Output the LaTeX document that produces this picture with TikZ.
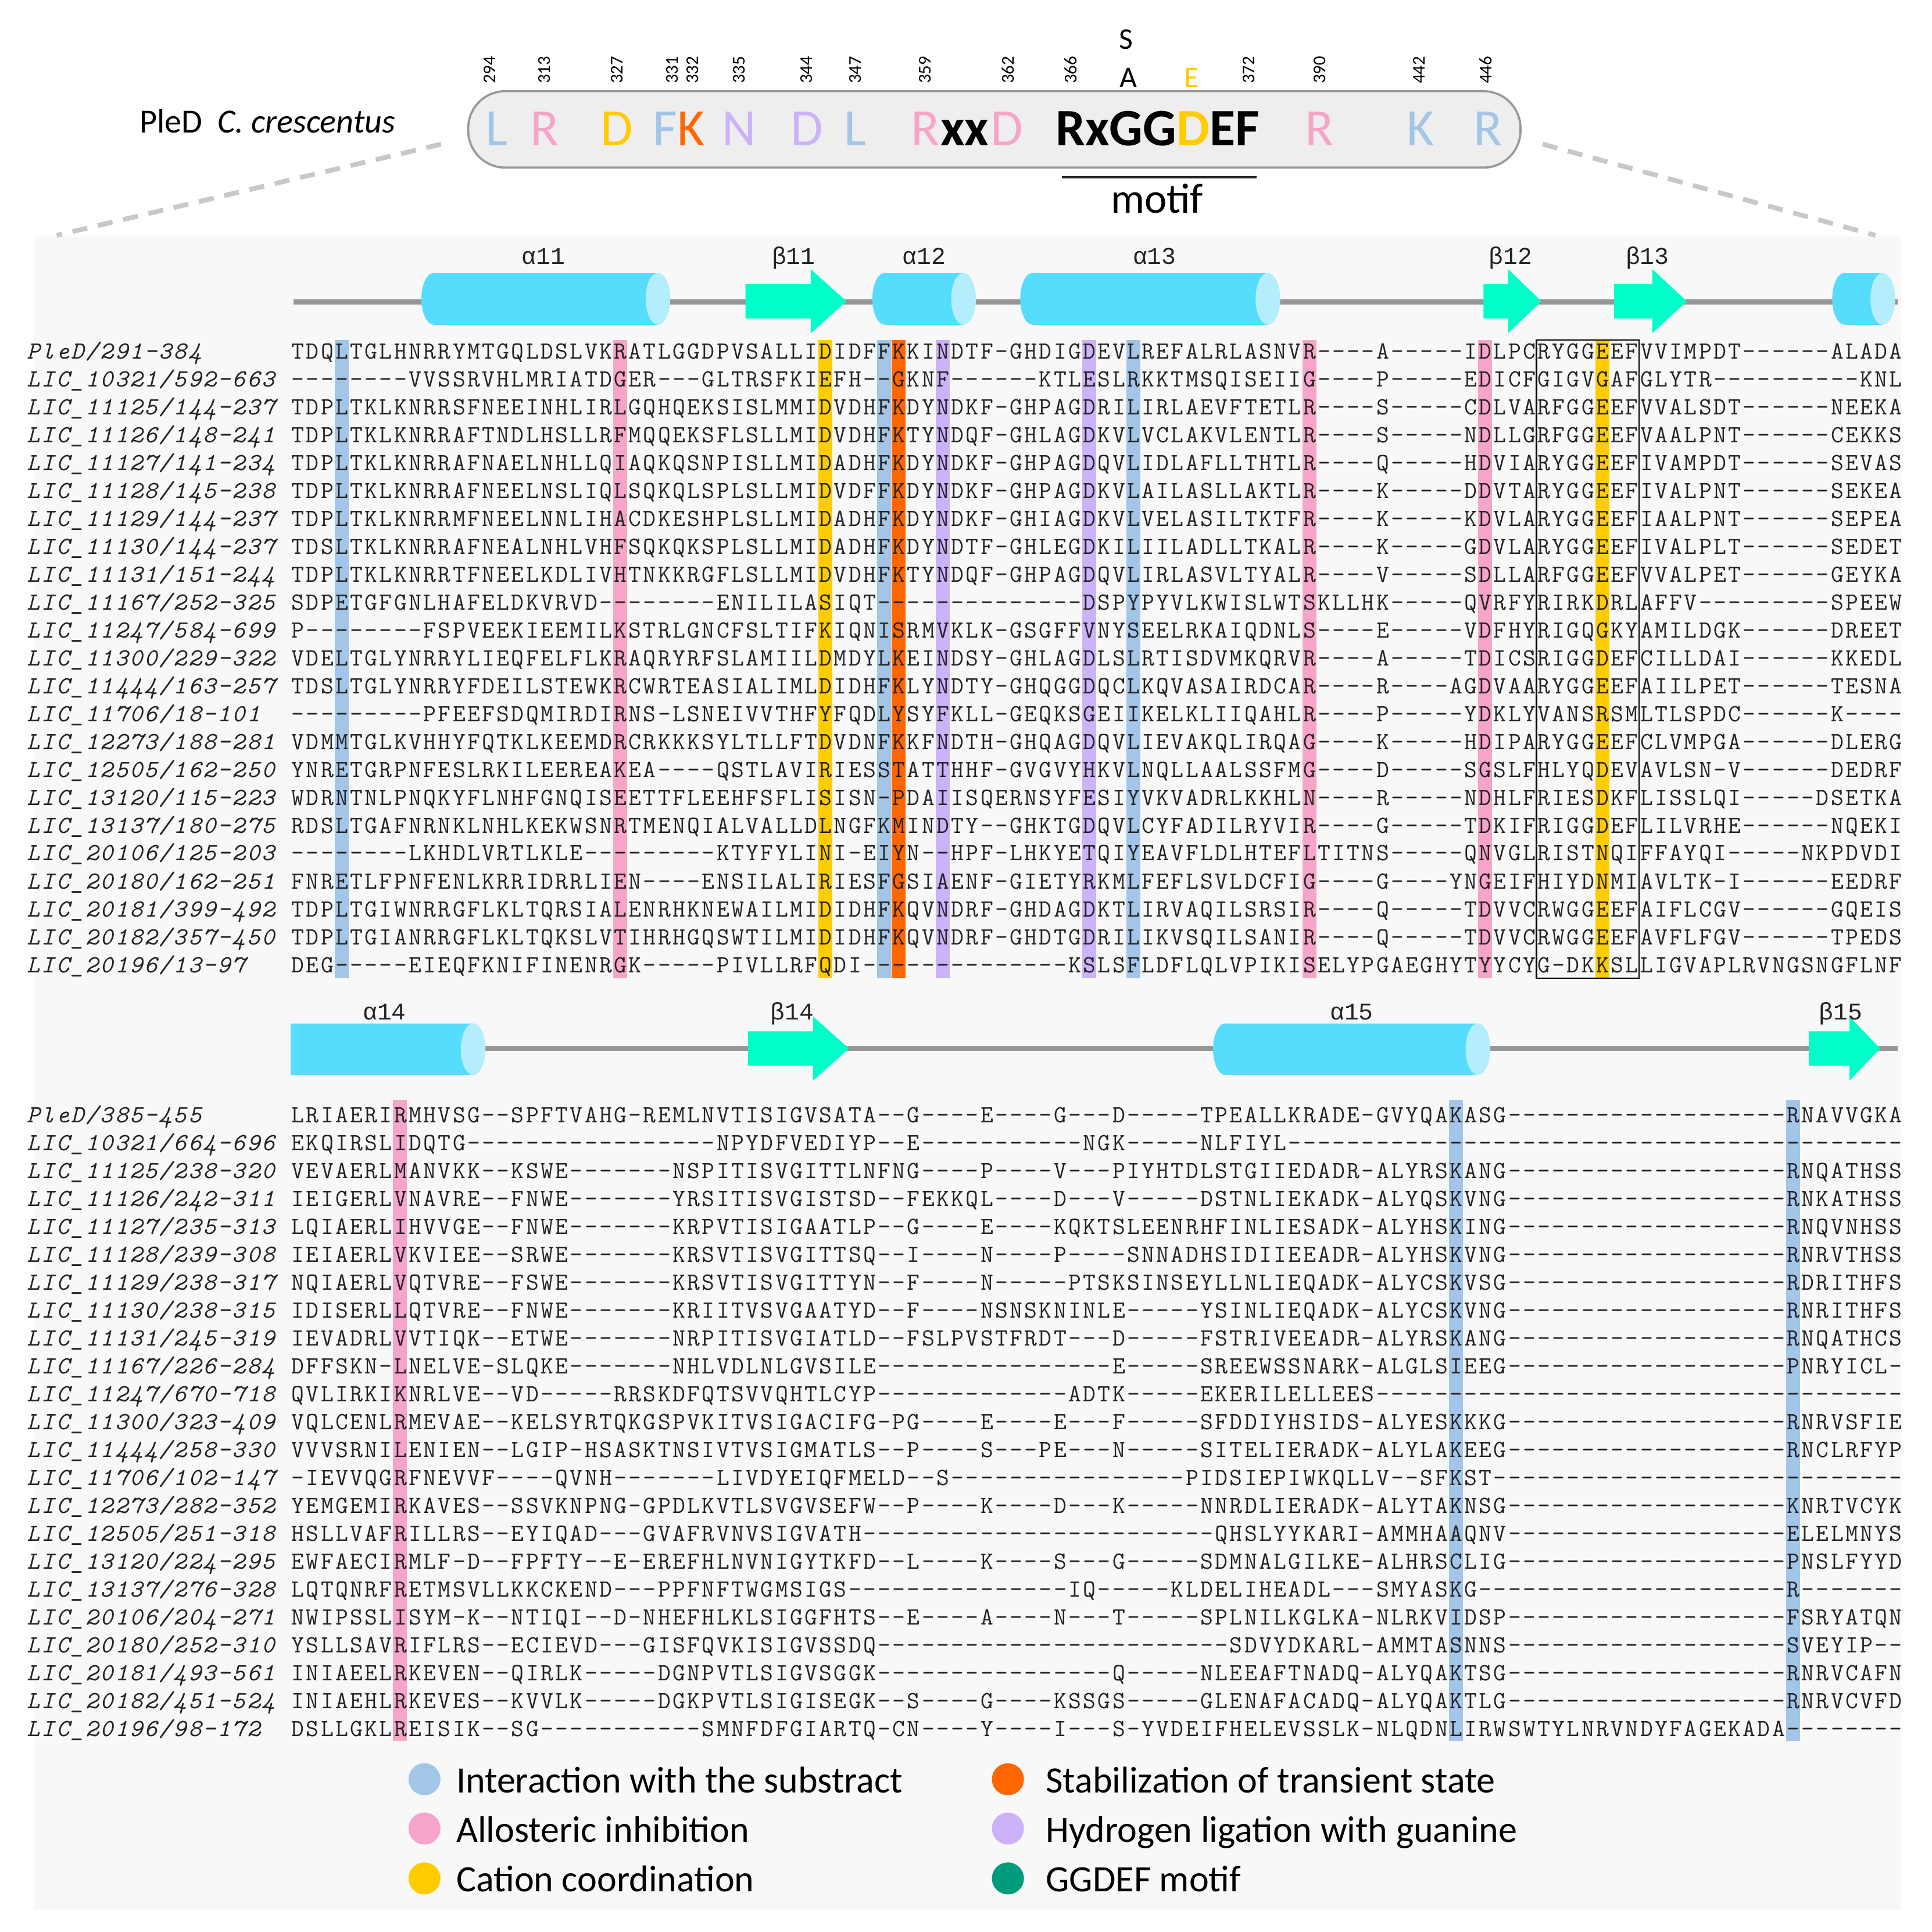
\documentclass[tikz,border=0pt]{standalone}
\usepackage{fontspec}
\newfontfamily\calfont{Carlito}
\newfontfamily\ssefont{Liberation Mono}

\definecolor{subblue}{RGB}{162,197,232}
\definecolor{alopink}{RGB}{246,165,200}
\definecolor{catyel}{RGB}{255,204,0}
\definecolor{staborg}{RGB}{255,102,0}
\definecolor{hydpur}{RGB}{204,178,248}
\definecolor{motgrn}{RGB}{0,155,124}
\definecolor{helixc}{RGB}{86,221,253}
\definecolor{helixcap}{RGB}{180,238,252}
\definecolor{strandc}{RGB}{0,255,200}
\definecolor{panelc}{RGB}{248,248,248}
\definecolor{seqgray}{RGB}{35,35,35}
\definecolor{pillc}{RGB}{238,238,238}
\definecolor{sscol}{RGB}{150,150,150}
\definecolor{dashc}{RGB}{200,200,200}

% one residue per fixed cell
\newlength\cw
\setlength\cw{0.238cm}
\newcommand\seqstr[1]{\ifx#1\relax\else\hbox to\cw{\hss#1\hss}\expandafter\seqstr\fi}

\tikzset{
  seq/.style={anchor=base west, inner sep=0pt, text=seqgray, font=\fontsize{11.4}{13}\selectfont\ttfamily},
  lab/.style={seq, font=\fontsize{11.4}{13}\selectfont\ttfamily\itshape},
  sselab/.style={anchor=base, inner sep=0pt, text=seqgray, font=\ssefont\fontsize{11.1}{13}\selectfont},
  hd/.style={anchor=base, inner sep=0pt, font=\calfont\fontsize{24.3}{28}\selectfont},
  hdb/.style={hd, font=\calfont\fontsize{24.3}{28}\selectfont\bfseries},
  posnum/.style={rotate=90, inner sep=0pt, font=\calfont\fontsize{8.3}{10}\selectfont},
  legtxt/.style={anchor=base west, inner sep=0pt, font=\calfont\fontsize{17.2}{20}\selectfont},
  ssline/.style={draw=sscol, line width=2.3pt},
  zoomline/.style={draw=dashc, line width=2.2pt, dash pattern=on 7pt off 5pt}
}

\begin{document}
\begin{tikzpicture}[x=0.02cm, y=-0.02cm]
\useasboundingbox (0,0) rectangle (1568,1568);
\fill[white] (0,0) rectangle (1568,1568);
\fill[panelc] (28,192) rectangle (1543,1550);

% zoom lines and PleD consensus
\draw[zoomline] (358,117) -- (46,191);
\draw[zoomline] (1252,117) -- (1522,191);
\filldraw[fill=pillc, draw=gray!80, line width=1pt, rounded corners=0.6cm] (380,74) rectangle (1234,136);
\node[anchor=base west, inner sep=0pt, font=\calfont\fontsize{15.6}{18}\selectfont] (org) at (113,108) {PleD\ \ \textit{C. crescentus}};

\node[hd, text=subblue] (h294) at (403,118) {L};
\node[hd, text=alopink] (h313) at (442,118) {R};
\node[hd, text=catyel] (h327) at (500.6,118) {D};
\node[hd, text=subblue] (h331) at (540,118) {F};
\node[hd, text=staborg] (h332) at (561,118) {K};
\node[hd, text=hydpur] (h335) at (600,118) {N};
\node[hd, text=hydpur] (h344) at (655,118) {D};
\node[hd, text=subblue] (h347) at (694,118) {L};
\node[hd, text=alopink] (h359) at (751,118) {R};
\node[hdb] (hxx) at (783,118) {xx};
\node[hd, text=alopink] (h362) at (817,118) {D};
\node[hdb] (hmot) at (939.5,118) {RxGG\textcolor{catyel}{D}EF};
\node[hd, text=alopink] (h390) at (1071,118) {R};
\node[hd, text=subblue] (h442) at (1153,118) {K};
\node[hd, text=subblue] (h446) at (1207.5,118) {R};

\foreach \x/\n in {397.6/294, 442/313, 500.6/327, 545.8/331, 562.3/332, 600/335, 654.7/344, 694/347, 751/359, 818/362, 869/366, 1013.7/372, 1071/390, 1151.5/442, 1205.6/446}
  \node[posnum] (p\n) at (\x,56.7) {\n};

\node[inner sep=0pt, font=\calfont\fontsize{13.9}{16}\selectfont] (subS) at (914,32) {S};
\node[inner sep=0pt, font=\calfont\fontsize{13.9}{16}\selectfont] (subA) at (916,63) {A};
\node[inner sep=0pt, text=catyel, font=\calfont\fontsize{13.9}{16}\selectfont] (subE) at (967,63) {E};

\draw[gray!30!black, line width=1pt] (862,144) -- (1020,144);
\node[anchor=base, inner sep=0pt, font=\calfont\fontsize{19.5}{22}\selectfont] (motif) at (939,173) {motif};

% secondary structure, block 1
\draw[ssline] (238,245) -- (1540,245);
\foreach \xa/\xb in {342/544, 708/792, 828/1039, 1487/1538} {
  \fill[helixc] (\xa+10,221.5) rectangle (\xb-10,263.5);
  \fill[helixc] (\xa+10,242.5) ellipse [x radius=10, y radius=21];
  \fill[helixcap] (\xb-10,242.5) ellipse [x radius=10, y radius=21];
}
\foreach \xa/\xh/\xt in {605/658/687, 1204/1224/1251, 1310/1341/1369}
  \fill[strandc] (\xa,230.5) -- (\xh,230.5) -- (\xh,218.5) -- (\xt,244.5) -- (\xh,270.5) -- (\xh,258.5) -- (\xa,258.5) -- cycle;
\node[sselab] (a11) at (441,214.5) {α11};
\node[sselab] (b11) at (644,214.5) {β11};
\node[sselab] (a12) at (750,214.5) {α12};
\node[sselab] (a13) at (937,214.5) {α13};
\node[sselab] (b12) at (1226,214.5) {β12};
\node[sselab] (b13) at (1337,214.5) {β13};

% secondary structure, block 2
\draw[ssline] (238,851) -- (1540,851);
\fill[helixc] (236,830.5) rectangle (384,872.5);
\fill[helixcap] (384,851.5) ellipse [x radius=10, y radius=21];
\fill[helixc] (994.5,830.5) rectangle (1199.5,872.5);
\fill[helixc] (994.5,851.5) ellipse [x radius=10, y radius=21];
\fill[helixcap] (1199.5,851.5) ellipse [x radius=10, y radius=21];
\foreach \xa/\xh/\xt in {607/660/689, 1468/1501/1526}
  \fill[strandc] (\xa,837) -- (\xh,837) -- (\xh,825) -- (\xt,851) -- (\xh,877) -- (\xh,865) -- (\xa,865) -- cycle;
\node[sselab] (a14) at (312,827.5) {α14};
\node[sselab] (b14) at (643,827.5) {β14};
\node[sselab] (a15) at (1097,827.5) {α15};
\node[sselab] (b15) at (1494,827.5) {β15};

% conserved columns
\foreach \c/\cl in {4/subblue, 23/alopink, 37/catyel, 41/subblue, 42/staborg, 45/hydpur, 55/hydpur, 58/subblue, 70/alopink, 82/alopink, 90/catyel}
  \fill[\cl] ({235.5+(\c-1)*11.9+0.3},276) rectangle ({235.5+\c*11.9-0.3},794);
\draw[black, line width=0.6pt] (1247,276) rectangle (1330.3,794);
\foreach \c/\cl in {8/alopink, 80/subblue, 103/subblue}
  \fill[\cl] ({235.5+(\c-1)*11.9+0.3},893) rectangle ({235.5+\c*11.9-0.3},1413);

% alignment, block 1
\node[lab] (lA1) at (21,291.2) {\seqstr PleD/291-384\relax};
\node[seq] (sA1) at (235.5,291.2) {\seqstr TDQLTGLHNRRYMTGQLDSLVKRATLGGDPVSALLIDIDFFKKINDTF-GHDIGDEVLREFALRLASNVR----A-----IDLPCRYGGEEFVVIMPDT------ALADA\relax};
\node[lab] (lA2) at (21,313.8) {\seqstr LIC\_10321/592-663\relax};
\node[seq] (sA2) at (235.5,313.8) {\seqstr --------VVSSRVHLMRIATDGER---GLTRSFKIEFH--GKNF------KTLESLRKKTMSQISEIIG----P-----EDICFGIGVGAFGLYTR----------KNL\relax};
\node[lab] (lA3) at (21,336.5) {\seqstr LIC\_11125/144-237\relax};
\node[seq] (sA3) at (235.5,336.5) {\seqstr TDPLTKLKNRRSFNEEINHLIRLGQHQEKSISLMMIDVDHFKDYNDKF-GHPAGDRILIRLAEVFTETLR----S-----CDLVARFGGEEFVVALSDT------NEEKA\relax};
\node[lab] (lA4) at (21,359.1) {\seqstr LIC\_11126/148-241\relax};
\node[seq] (sA4) at (235.5,359.1) {\seqstr TDPLTKLKNRRAFTNDLHSLLRFMQQEKSFLSLLMIDVDHFKTYNDQF-GHLAGDKVLVCLAKVLENTLR----S-----NDLLGRFGGEEFVAALPNT------CEKKS\relax};
\node[lab] (lA5) at (21,381.7) {\seqstr LIC\_11127/141-234\relax};
\node[seq] (sA5) at (235.5,381.7) {\seqstr TDPLTKLKNRRAFNAELNHLLQIAQKQSNPISLLMIDADHFKDYNDKF-GHPAGDQVLIDLAFLLTHTLR----Q-----HDVIARYGGEEFIVAMPDT------SEVAS\relax};
\node[lab] (lA6) at (21,404.4) {\seqstr LIC\_11128/145-238\relax};
\node[seq] (sA6) at (235.5,404.4) {\seqstr TDPLTKLKNRRAFNEELNSLIQLSQKQLSPLSLLMIDVDFFKDYNDKF-GHPAGDKVLAILASLLAKTLR----K-----DDVTARYGGEEFIVALPNT------SEKEA\relax};
\node[lab] (lA7) at (21,427.0) {\seqstr LIC\_11129/144-237\relax};
\node[seq] (sA7) at (235.5,427.0) {\seqstr TDPLTKLKNRRMFNEELNNLIHACDKESHPLSLLMIDADHFKDYNDKF-GHIAGDKVLVELASILTKTFR----K-----KDVLARYGGEEFIAALPNT------SEPEA\relax};
\node[lab] (lA8) at (21,449.7) {\seqstr LIC\_11130/144-237\relax};
\node[seq] (sA8) at (235.5,449.7) {\seqstr TDSLTKLKNRRAFNEALNHLVHFSQKQKSPLSLLMIDADHFKDYNDTF-GHLEGDKILIILADLLTKALR----K-----GDVLARYGGEEFIVALPLT------SEDET\relax};
\node[lab] (lA9) at (21,472.3) {\seqstr LIC\_11131/151-244\relax};
\node[seq] (sA9) at (235.5,472.3) {\seqstr TDPLTKLKNRRTFNEELKDLIVHTNKKRGFLSLLMIDVDHFKTYNDQF-GHPAGDQVLIRLASVLTYALR----V-----SDLLARFGGEEFVVALPET------GEYKA\relax};
\node[lab] (lA10) at (21,494.9) {\seqstr LIC\_11167/252-325\relax};
\node[seq] (sA10) at (235.5,494.9) {\seqstr SDPETGFGNLHAFELDKVRVD--------ENILILASIQT--------------DSPYPYVLKWISLWTSKLLHK-----QVRFYRIRKDRLAFFV---------SPEEW\relax};
\node[lab] (lA11) at (21,517.6) {\seqstr LIC\_11247/584-699\relax};
\node[seq] (sA11) at (235.5,517.6) {\seqstr P--------FSPVEEKIEEMILKSTRLGNCFSLTIFKIQNISRMVKLK-GSGFFVNYSEELRKAIQDNLS----E-----VDFHYRIGQGKYAMILDGK------DREET\relax};
\node[lab] (lA12) at (21,540.2) {\seqstr LIC\_11300/229-322\relax};
\node[seq] (sA12) at (235.5,540.2) {\seqstr VDELTGLYNRRYLIEQFELFLKRAQRYRFSLAMIILDMDYLKEINDSY-GHLAGDLSLRTISDVMKQRVR----A-----TDICSRIGGDEFCILLDAI------KKEDL\relax};
\node[lab] (lA13) at (21,562.8) {\seqstr LIC\_11444/163-257\relax};
\node[seq] (sA13) at (235.5,562.8) {\seqstr TDSLTGLYNRRYFDEILSTEWKRCWRTEASIALIMLDIDHFKLYNDTY-GHQGGDQCLKQVASAIRDCAR----R----AGDVAARYGGEEFAIILPET------TESNA\relax};
\node[lab] (lA14) at (21,585.5) {\seqstr LIC\_11706/18-101\relax};
\node[seq] (sA14) at (235.5,585.5) {\seqstr ---------PFEEFSDQMIRDIRNS-LSNEIVVTHFYFQDLYSYFKLL-GEQKSGEIIKELKLIIQAHLR----P-----YDKLYVANSRSMLTLSPDC------K----\relax};
\node[lab] (lA15) at (21,608.1) {\seqstr LIC\_12273/188-281\relax};
\node[seq] (sA15) at (235.5,608.1) {\seqstr VDMMTGLKVHHYFQTKLKEEMDRCRKKKSYLTLLFTDVDNFKKFNDTH-GHQAGDQVLIEVAKQLIRQAG----K-----HDIPARYGGEEFCLVMPGA------DLERG\relax};
\node[lab] (lA16) at (21,630.7) {\seqstr LIC\_12505/162-250\relax};
\node[seq] (sA16) at (235.5,630.7) {\seqstr YNRETGRPNFESLRKILEEREAKEA----QSTLAVIRIESSTATTHHF-GVGVYHKVLNQLLAALSSFMG----D-----SGSLFHLYQDEVAVLSN-V------DEDRF\relax};
\node[lab] (lA17) at (21,653.4) {\seqstr LIC\_13120/115-223\relax};
\node[seq] (sA17) at (235.5,653.4) {\seqstr WDRNTNLPNQKYFLNHFGNQISEETTFLEEHFSFLISISN-PDAIISQERNSYFESIYVKVADRLKKHLN----R-----NDHLFRIESDKFLISSLQI-----DSETKA\relax};
\node[lab] (lA18) at (21,676.0) {\seqstr LIC\_13137/180-275\relax};
\node[seq] (sA18) at (235.5,676.0) {\seqstr RDSLTGAFNRNKLNHLKEKWSNRTMENQIALVALLDLNGFKMINDTY--GHKTGDQVLCYFADILRYVIR----G-----TDKIFRIGGDEFLILVRHE------NQEKI\relax};
\node[lab] (lA19) at (21,698.6) {\seqstr LIC\_20106/125-203\relax};
\node[seq] (sA19) at (235.5,698.6) {\seqstr --------LKHDLVRTLKLE---------KTYFYLINI-EIYN--HPF-LHKYETQIYEAVFLDLHTEFLTITNS-----QNVGLRISTNQIFFAYQI-----NKPDVDI\relax};
\node[lab] (lA20) at (21,721.3) {\seqstr LIC\_20180/162-251\relax};
\node[seq] (sA20) at (235.5,721.3) {\seqstr FNRETLFPNFENLKRRIDRRLIEN----ENSILALIRIESFGSIAENF-GIETYRKMLFEFLSVLDCFIG----G----YNGEIFHIYDNMIAVLTK-I------EEDRF\relax};
\node[lab] (lA21) at (21,743.9) {\seqstr LIC\_20181/399-492\relax};
\node[seq] (sA21) at (235.5,743.9) {\seqstr TDPLTGIWNRRGFLKLTQRSIALENRHKNEWAILMIDIDHFKQVNDRF-GHDAGDKTLIRVAQILSRSIR----Q-----TDVVCRWGGEEFAIFLCGV------GQEIS\relax};
\node[lab] (lA22) at (21,766.6) {\seqstr LIC\_20182/357-450\relax};
\node[seq] (sA22) at (235.5,766.6) {\seqstr TDPLTGIANRRGFLKLTQKSLVTIHRHGQSWTILMIDIDHFKQVNDRF-GHDTGDRILIKVSQILSANIR----Q-----TDVVCRWGGEEFAVFLFGV------TPEDS\relax};
\node[lab] (lA23) at (21,789.2) {\seqstr LIC\_20196/13-97\relax};
\node[seq] (sA23) at (235.5,789.2) {\seqstr DEG-----EIEQFKNIFINENRGK-----PIVLLRFQDI--------------KSLSFLDFLQLVPIKISELYPGAEGHYTYYCYG-DKKSLLIGVAPLRVNGSNGFLNF\relax};

% alignment, block 2
\node[lab] (lB1) at (21,911.2) {\seqstr PleD/385-455\relax};
\node[seq] (sB1) at (235.5,911.2) {\seqstr LRIAERIRMHVSG--SPFTVAHG-REMLNVTISIGVSATA--G----E----G---D-----TPEALLKRADE-GVYQAKASG-------------------RNAVVGKA\relax};
\node[lab] (lB2) at (21,933.8) {\seqstr LIC\_10321/664-696\relax};
\node[seq] (sB2) at (235.5,933.8) {\seqstr EKQIRSLIDQTG-----------------NPYDFVEDIYP--E-----------NGK-----NLFIYL------------------------------------------\relax};
\node[lab] (lB3) at (21,956.5) {\seqstr LIC\_11125/238-320\relax};
\node[seq] (sB3) at (235.5,956.5) {\seqstr VEVAERLMANVKK--KSWE-------NSPITISVGITTLNFNG----P----V---PIYHTDLSTGIIEDADR-ALYRSKANG-------------------RNQATHSS\relax};
\node[lab] (lB4) at (21,979.1) {\seqstr LIC\_11126/242-311\relax};
\node[seq] (sB4) at (235.5,979.1) {\seqstr IEIGERLVNAVRE--FNWE-------YRSITISVGISTSD--FEKKQL----D---V-----DSTNLIEKADK-ALYQSKVNG-------------------RNKATHSS\relax};
\node[lab] (lB5) at (21,1001.7) {\seqstr LIC\_11127/235-313\relax};
\node[seq] (sB5) at (235.5,1001.7) {\seqstr LQIAERLIHVVGE--FNWE-------KRPVTISIGAATLP--G----E----KQKTSLEENRHFINLIESADK-ALYHSKING-------------------RNQVNHSS\relax};
\node[lab] (lB6) at (21,1024.4) {\seqstr LIC\_11128/239-308\relax};
\node[seq] (sB6) at (235.5,1024.4) {\seqstr IEIAERLVKVIEE--SRWE-------KRSVTISVGITTSQ--I----N----P----SNNADHSIDIIEEADR-ALYHSKVNG-------------------RNRVTHSS\relax};
\node[lab] (lB7) at (21,1047.0) {\seqstr LIC\_11129/238-317\relax};
\node[seq] (sB7) at (235.5,1047.0) {\seqstr NQIAERLVQTVRE--FSWE-------KRSVTISVGITTYN--F----N-----PTSKSINSEYLLNLIEQADK-ALYCSKVSG-------------------RDRITHFS\relax};
\node[lab] (lB8) at (21,1069.7) {\seqstr LIC\_11130/238-315\relax};
\node[seq] (sB8) at (235.5,1069.7) {\seqstr IDISERLLQTVRE--FNWE-------KRIITVSVGAATYD--F----NSNSKNINLE-----YSINLIEQADK-ALYCSKVNG-------------------RNRITHFS\relax};
\node[lab] (lB9) at (21,1092.3) {\seqstr LIC\_11131/245-319\relax};
\node[seq] (sB9) at (235.5,1092.3) {\seqstr IEVADRLVVTIQK--ETWE-------NRPITISVGIATLD--FSLPVSTFRDT---D-----FSTRIVEEADR-ALYRSKANG-------------------RNQATHCS\relax};
\node[lab] (lB10) at (21,1114.9) {\seqstr LIC\_11167/226-284\relax};
\node[seq] (sB10) at (235.5,1114.9) {\seqstr DFFSKN-LNELVE-SLQKE-------NHLVDLNLGVSILE----------------E-----SREEWSSNARK-ALGLSIEEG-------------------PNRYICL-\relax};
\node[lab] (lB11) at (21,1137.6) {\seqstr LIC\_11247/670-718\relax};
\node[seq] (sB11) at (235.5,1137.6) {\seqstr QVLIRKIKNRLVE--VD-----RRSKDFQTSVVQHTLCYP-------------ADTK-----EKERILELLEES------------------------------------\relax};
\node[lab] (lB12) at (21,1160.2) {\seqstr LIC\_11300/323-409\relax};
\node[seq] (sB12) at (235.5,1160.2) {\seqstr VQLCENLRMEVAE--KELSYRTQKGSPVKITVSIGACIFG-PG----E----E---F-----SFDDIYHSIDS-ALYESKKKG-------------------RNRVSFIE\relax};
\node[lab] (lB13) at (21,1182.8) {\seqstr LIC\_11444/258-330\relax};
\node[seq] (sB13) at (235.5,1182.8) {\seqstr VVVSRNILENIEN--LGIP-HSASKTNSIVTVSIGMATLS--P----S---PE---N-----SITELIERADK-ALYLAKEEG-------------------RNCLRFYP\relax};
\node[lab] (lB14) at (21,1205.5) {\seqstr LIC\_11706/102-147\relax};
\node[seq] (sB14) at (235.5,1205.5) {\seqstr -IEVVQGRFNEVVF----QVNH-------LIVDYEIQFMELD--S----------------PIDSIEPIWKQLLV--SFKST----------------------------\relax};
\node[lab] (lB15) at (21,1228.1) {\seqstr LIC\_12273/282-352\relax};
\node[seq] (sB15) at (235.5,1228.1) {\seqstr YEMGEMIRKAVES--SSVKNPNG-GPDLKVTLSVGVSEFW--P----K----D---K-----NNRDLIERADK-ALYTAKNSG-------------------KNRTVCYK\relax};
\node[lab] (lB16) at (21,1250.7) {\seqstr LIC\_12505/251-318\relax};
\node[seq] (sB16) at (235.5,1250.7) {\seqstr HSLLVAFRILLRS--EYIQAD---GVAFRVNVSIGVATH------------------------QHSLYYKARI-AMMHAAQNV-------------------ELELMNYS\relax};
\node[lab] (lB17) at (21,1273.4) {\seqstr LIC\_13120/224-295\relax};
\node[seq] (sB17) at (235.5,1273.4) {\seqstr EWFAECIRMLF-D--FPFTY--E-EREFHLNVNIGYTKFD--L----K----S---G-----SDMNALGILKE-ALHRSCLIG-------------------PNSLFYYD\relax};
\node[lab] (lB18) at (21,1296.0) {\seqstr LIC\_13137/276-328\relax};
\node[seq] (sB18) at (235.5,1296.0) {\seqstr LQTQNRFRETMSVLLKKCKEND---PPFNFTWGMSIGS---------------IQ-----KLDELIHEADL---SMYASKG---------------------R-------\relax};
\node[lab] (lB19) at (21,1318.6) {\seqstr LIC\_20106/204-271\relax};
\node[seq] (sB19) at (235.5,1318.6) {\seqstr NWIPSSLISYM-K--NTIQI--D-NHEFHLKLSIGGFHTS--E----A----N---T-----SPLNILKGLKA-NLRKVIDSP-------------------FSRYATQN\relax};
\node[lab] (lB20) at (21,1341.3) {\seqstr LIC\_20180/252-310\relax};
\node[seq] (sB20) at (235.5,1341.3) {\seqstr YSLLSAVRIFLRS--ECIEVD---GISFQVKISIGVSSDQ------------------------SDVYDKARL-AMMTASNNS-------------------SVEYIP--\relax};
\node[lab] (lB21) at (21,1363.9) {\seqstr LIC\_20181/493-561\relax};
\node[seq] (sB21) at (235.5,1363.9) {\seqstr INIAEELRKEVEN--QIRLK-----DGNPVTLSIGVSGGK----------------Q-----NLEEAFTNADQ-ALYQAKTSG-------------------RNRVCAFN\relax};
\node[lab] (lB22) at (21,1386.6) {\seqstr LIC\_20182/451-524\relax};
\node[seq] (sB22) at (235.5,1386.6) {\seqstr INIAEHLRKEVES--KVVLK-----DGKPVTLSIGISEGK--S----G----KSSGS-----GLENAFACADQ-ALYQAKTLG-------------------RNRVCVFD\relax};
\node[lab] (lB23) at (21,1409.2) {\seqstr LIC\_20196/98-172\relax};
\node[seq] (sB23) at (235.5,1409.2) {\seqstr DSLLGKLREISIK--SG-----------SMNFDFGIARTQ-CN----Y----I---S-YVDEIFHELEVSSLK-NLQDNLIRWSWTYLNRVNDYFAGEKADA--------\relax};

% legend
\fill[subblue] (344.5,1444) circle [radius=13];
\node[legtxt] (lg1) at (370,1455) {Interaction with the substract};
\fill[alopink] (344.5,1484) circle [radius=13];
\node[legtxt] (lg2) at (370,1495) {Allosteric inhibition};
\fill[catyel] (344.5,1524.5) circle [radius=13];
\node[legtxt] (lg3) at (370,1535) {Cation coordination};
\fill[staborg] (818,1444) circle [radius=13];
\node[legtxt] (lg4) at (848.5,1455) {Stabilization of transient state};
\fill[hydpur] (818,1484) circle [radius=13];
\node[legtxt] (lg5) at (848.5,1495) {Hydrogen ligation with guanine};
\fill[motgrn] (818,1524.5) circle [radius=13];
\node[legtxt] (lg6) at (848.5,1535) {GGDEF motif};
\end{tikzpicture}
\end{document}
